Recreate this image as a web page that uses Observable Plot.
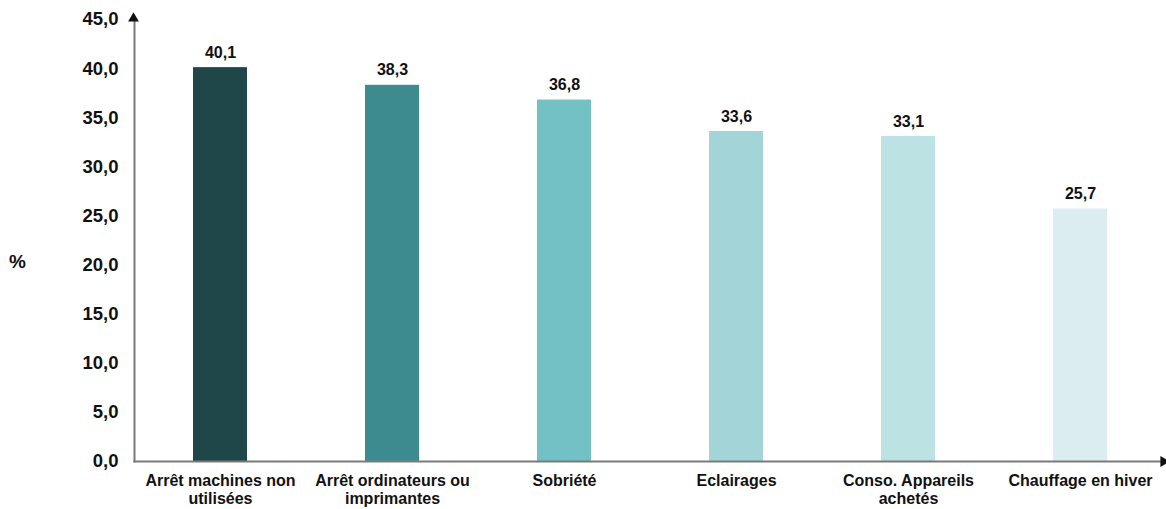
<!DOCTYPE html>
<html>
<head>
<meta charset="utf-8">
<script src="https://cdn.jsdelivr.net/npm/d3@7"></script>
<script src="https://cdn.jsdelivr.net/npm/@observablehq/plot@0.6"></script>
<style>
  html, body { margin: 0; padding: 0; background: #fff; }
  #chart { position: relative; width: 1166px; height: 509px; }
  #ylab { position: absolute; left: 9px; top: 251px; font: bold 19px "Liberation Sans", Arial, sans-serif; color: #111; }
</style>
</head>
<body>
<div id="chart"><div id="ylab">%</div></div>
<script>
const categories = ["Arrêt machines non\nutilisées", "Arrêt ordinateurs ou\nimprimantes", "Sobriété", "Eclairages", "Conso. Appareils\nachetés", "Chauffage en hiver"];
const values = [40.1, 38.3, 36.8, 33.6, 33.1, 25.7];
const colors = ["#1f4649", "#3d8a8f", "#73c0c5", "#a2d4d8", "#bde2e4", "#dcedef"];
const yTicks = [0, 5, 10, 15, 20, 25, 30, 35, 40, 45];

const data = categories.map((c, i) => ({cat: c, value: values[i], color: colors[i]}));
const fmt = v => v.toFixed(1).replace(".", ",");
const font = '"Liberation Sans", Arial, sans-serif';

const chart = Plot.plot({
  width: 1166,
  height: 509,
  marginTop: 19,
  marginBottom: 48,
  marginLeft: 134,
  marginRight: 0,
  style: {fontFamily: font, background: "transparent"},
  x: {domain: categories, paddingInner: 0.686, paddingOuter: 0.343, label: null},
  y: {domain: [0, 45], label: null},
  marks: [
    Plot.barY(data, {x: "cat", y: "value", fill: "color"}),
    Plot.text(data, {x: "cat", y: "value", text: d => fmt(d.value), dy: -15, fontSize: 16, fontWeight: "bold", fill: "#111"}),
    Plot.axisY({ticks: yTicks, tickFormat: fmt, tickSize: 0, tickPadding: 16, fontSize: 18.5, fontWeight: "bold", fill: "#111", label: null}),
    Plot.axisX({tickSize: 0, tickPadding: 12, fontSize: 16, fontWeight: "bold", fill: "#111", label: null, lineHeight: 1.12}),
    Plot.frame({anchor: "left", stroke: "#7a7a7a", strokeWidth: 2, strokeOpacity: 1}),
    Plot.frame({anchor: "bottom", stroke: "#7a7a7a", strokeWidth: 2, strokeOpacity: 1}),
    Plot.dot([0], {frameAnchor: "top-left", symbol: "triangle", r: 4, fill: "#111", stroke: "none", dx: -1, dy: -1}),
    Plot.dot([0], {frameAnchor: "bottom-right", symbol: "triangle", r: 4, fill: "#111", stroke: "none", rotate: 90, dx: -3})
  ]
});
document.getElementById("chart").appendChild(chart);
</script>
</body>
</html>
